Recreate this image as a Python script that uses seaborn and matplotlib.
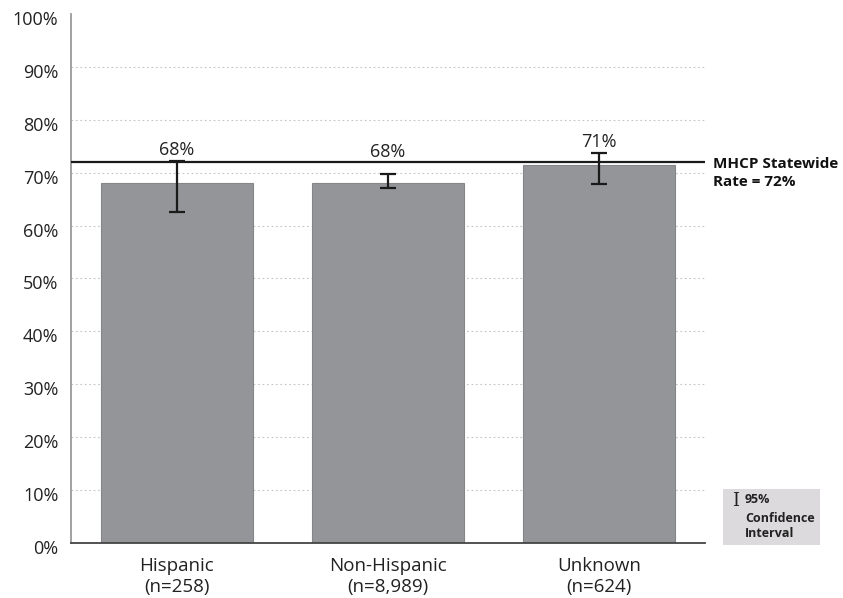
import matplotlib
matplotlib.use("Agg")
import matplotlib.pyplot as plt
import matplotlib.transforms as mtransforms
from matplotlib.patches import Rectangle
import pandas as pd
import seaborn as sns

sns.set_theme(style="white")
plt.rcParams["font.family"] = ["Open Sans", "DejaVu Sans"]

groups = ["Hispanic", "Non-Hispanic", "Unknown"]
group_n = ["258", "8,989", "624"]
rates = [68.1, 68.0, 71.5]
ci_low = [62.6, 67.1, 67.8]
ci_high = [72.3, 69.7, 73.8]
value_labels = ["68%", "68%", "71%"]
statewide_rate = 72

df = pd.DataFrame({"group": groups, "rate": rates})

fig = plt.figure(figsize=(8.43, 5.98), dpi=100)
ax = fig.add_axes([0.0842, 0.092, 0.752, 0.8846])

sns.barplot(data=df, x="group", y="rate", color="#939598", width=0.72,
            saturation=1, edgecolor="#85868a", linewidth=0.8, errorbar=None, ax=ax)

# confidence intervals + value labels
for i, (r, lo, hi) in enumerate(zip(rates, ci_low, ci_high)):
    ax.errorbar(i, r, yerr=[[r - lo], [hi - r]], fmt="none", ecolor="#1a1a1a",
                elinewidth=1.6, capsize=6, capthick=1.6, zorder=4)
    ax.text(i, max(hi, statewide_rate) + 0.3, value_labels[i], ha="center", va="bottom",
            fontsize=13, color="#222222")

ax.axhline(statewide_rate, color="#1a1a1a", linewidth=1.6, zorder=3)
ax.text(1.013, statewide_rate + 0.9, "MHCP Statewide\nRate = 72%", transform=ax.get_yaxis_transform(),
        ha="left", va="top", fontsize=11, fontweight="bold", color="#111111", linespacing=1.3)

ax.set_ylim(0, 100)
ax.set_xlim(-0.5, 2.5)
ax.set_yticks(range(0, 101, 10))
ax.set_yticklabels([f"{v}%" for v in range(0, 101, 10)], fontsize=13, color="#222222")
ax.set_xticks(range(len(groups)))
ax.set_xticklabels([f"{g}\n(n={n})" for g, n in zip(groups, group_n)], fontsize=13.5,
                   color="#222222", linespacing=1.25)
ax.set_xlabel("")
ax.set_ylabel("")
ax.tick_params(axis="y", length=0, pad=9)
ax.tick_params(axis="x", length=0, pad=10)
shift = mtransforms.ScaledTranslation(0, -4 / 100, fig.dpi_scale_trans)
for lab in ax.get_yticklabels():
    lab.set_transform(lab.get_transform() + shift)

for v in range(10, 100, 10):
    ax.axhline(v, color="#c4c4c4", linewidth=0.8, linestyle=(0, (1.5, 2.5)), zorder=0)

for side in ["top", "right"]:
    ax.spines[side].set_visible(False)
ax.spines["left"].set_color("#9a9a9a")
ax.spines["bottom"].set_color("#444444")
ax.spines["left"].set_linewidth(1.3)
ax.spines["bottom"].set_linewidth(1.3)

# legend box for confidence interval
fig.patches.append(Rectangle((0.8577, 0.0886), 0.1151, 0.0936, transform=fig.transFigure,
                             facecolor="#dcdadc", edgecolor="none", zorder=0))
fig.text(0.8680, 0.1535, "I", family="DejaVu Serif", fontsize=13, color="#222222", va="baseline")
fig.text(0.8838, 0.1589, "95%", fontsize=9, fontweight="bold", color="#222222", va="baseline")
fig.text(0.8838, 0.1271, "Confidence", fontsize=9, fontweight="bold", color="#222222", va="baseline")
fig.text(0.8838, 0.1020, "Interval", fontsize=9, fontweight="bold", color="#222222", va="baseline")

fig.savefig("out.png", dpi=100)
